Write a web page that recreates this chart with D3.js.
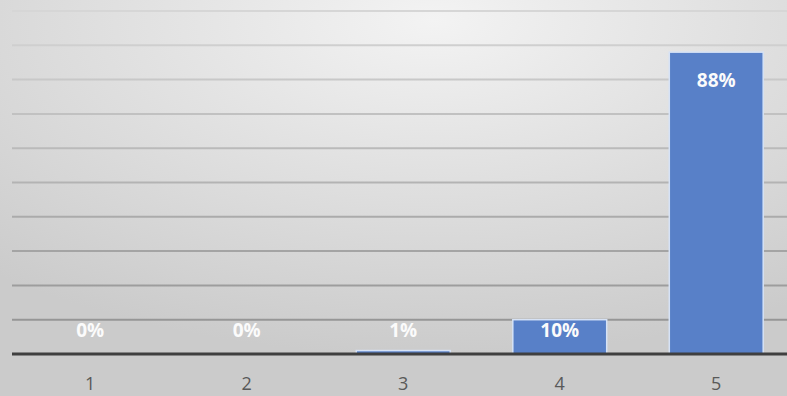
<!DOCTYPE html>
<html>
<head>
<meta charset="utf-8">
<script src="https://cdn.jsdelivr.net/npm/d3@7"></script>
<style>
  html, body { margin: 0; padding: 0; overflow: hidden; }
  svg { display: block; }
</style>
</head>
<body>
<svg id="chart"></svg>
<script>
const categories = ['1', '2', '3', '4', '5'];
const shares = [0, 0, 0.01, 0.10, 0.88];
const labels = ['0%', '0%', '1%', '10%', '88%'];
const gridTicks = [0.1, 0.2, 0.3, 0.4, 0.5, 0.6, 0.7, 0.8, 0.9, 1.0];

const W = 787, H = 396;
const svg = d3.select('#chart').attr('width', W).attr('height', H);

// background gradient
const defs = svg.append('defs');
const bg = defs.append('radialGradient').attr('id', 'bg')
    .attr('cx', '55%').attr('cy', '5%').attr('r', '85%');
bg.append('stop').attr('offset', '0%').attr('stop-color', '#f3f3f3');
bg.append('stop').attr('offset', '100%').attr('stop-color', '#cbcbcb');
svg.append('rect').attr('width', W).attr('height', H).attr('fill', 'url(#bg)');

const x = d3.scaleBand().domain(categories).range([12, 794.5]).paddingInner(0.4).paddingOuter(0.2);
const y = d3.scaleLinear().domain([0, 1]).range([354, 11]);

// grid
const gridColor = d3.interpolateRgb('#8f8f8f', '#d6d6d6');
svg.append('g').selectAll('line')
    .data(gridTicks)
    .enter().append('line')
    .attr('x1', 12).attr('x2', W)
    .attr('y1', d => y(d)).attr('y2', d => y(d))
    .attr('stroke', d => gridColor(d))
    .attr('stroke-width', 2);

// bars
svg.append('g').selectAll('rect')
    .data(shares)
    .enter().append('rect')
    .attr('x', (d, i) => x(categories[i]))
    .attr('width', x.bandwidth())
    .attr('y', d => y(d))
    .attr('height', d => y(0) - y(d))
    .attr('fill', '#5880c8')
    .attr('stroke', '#d6e2f6')
    .attr('stroke-width', 1.5);

// baseline
svg.append('line')
    .attr('x1', 12).attr('x2', W)
    .attr('y1', y(0)).attr('y2', y(0))
    .attr('stroke', '#3f3f3f').attr('stroke-width', 3);

// value labels
svg.append('g').selectAll('text')
    .data(shares)
    .enter().append('text')
    .attr('x', (d, i) => x(categories[i]) + x.bandwidth() / 2)
    .attr('y', d => Math.min(y(d) + 28, y(0) - 24))
    .attr('dy', '0.35em')
    .attr('text-anchor', 'middle')
    .attr('font-family', 'Open Sans, sans-serif')
    .attr('font-size', '19px').attr('font-weight', '700')
    .attr('fill', '#fbfbfb')
    .text((d, i) => labels[i]);

// category axis
svg.append('g')
    .attr('transform', `translate(0,${y(0)})`)
    .call(d3.axisBottom(x).tickSize(0).tickPadding(23))
    .call(g => g.select('.domain').remove())
    .selectAll('text')
    .attr('font-family', 'Open Sans, sans-serif')
    .attr('font-size', '18px')
    .attr('fill', '#595959');
</script>
</body>
</html>
